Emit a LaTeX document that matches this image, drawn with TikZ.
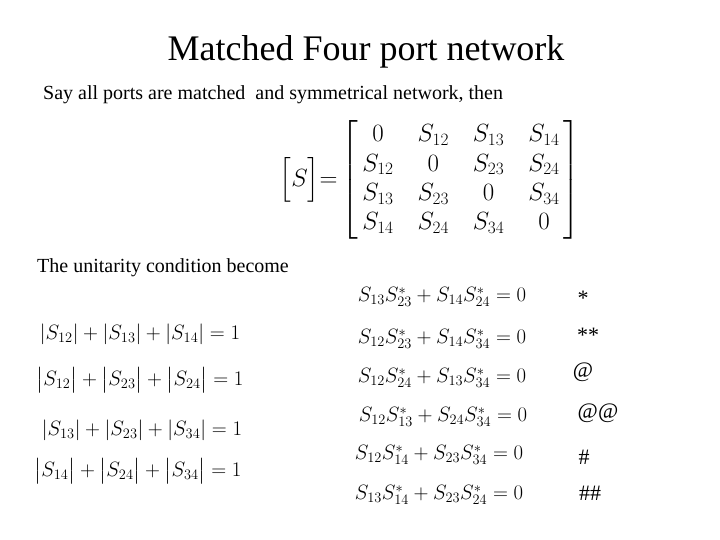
\documentclass[tikz,border=0pt]{standalone}
\usepackage{fontspec}
\usepackage{amsmath}
\setmainfont{Liberation Serif}
\begin{document}
\begin{tikzpicture}[x=1pt,y=-1pt,
  eq/.style={inner sep=0pt,font=\fontsize{20}{22}\selectfont},
  req/.style={inner sep=0pt,font=\fontsize{20.5}{22}\selectfont},
  sym/.style={inner sep=0pt,font=\fontsize{22}{24}\selectfont}]
\useasboundingbox (0,0) rectangle (720,540);
\node[inner sep=0pt,font=\fontsize{36}{40}\selectfont] (title) at (366,52) {Matched Four port network};
\node[inner sep=0pt,anchor=west,font=\fontsize{20}{22}\selectfont] (say) at (43,95) {Say all ports are matched\ \ and symmetrical network, then};
\node[inner sep=0pt,font=\fontsize{24}{28}\selectfont] (mat) at (430,180) {$\displaystyle\Big[S\Big]{=}\left[\renewcommand\arraystretch{1.05}\begin{array}{@{\,}c@{\quad}c@{\quad}c@{\quad}c@{\,}}
0 & S_{12} & S_{13} & S_{14}\\
S_{12} & 0 & S_{23} & S_{24}\\
S_{13} & S_{23} & 0 & S_{34}\\
S_{14} & S_{24} & S_{34} & 0
\end{array}\right]$};
\node[inner sep=0pt,anchor=west,font=\fontsize{20}{22}\selectfont] (uni) at (37,268) {The unitarity condition become};
\node[eq] (l1) at (140,334) {$|S_{12}|+|S_{13}|+|S_{14}|=1$};
\node[eq] (l2) at (140,380) {$\big|S_{12}\big|+\big|S_{23}\big|+\big|S_{24}\big|=1$};
\node[eq] (l3) at (142,430) {$|S_{13}|+|S_{23}|+|S_{34}|=1$};
\node[eq] (l4) at (138,471) {$\big|S_{14}\big|+\big|S_{24}\big|+\big|S_{34}\big|=1$};
\node[req] (r1) at (442,297) {$S_{13}S_{23}^{*}+S_{14}S_{24}^{*}=0$};
\node[req] (r2) at (442,339) {$S_{12}S_{23}^{*}+S_{14}S_{34}^{*}=0$};
\node[req] (r3) at (442,378) {$S_{12}S_{24}^{*}+S_{13}S_{34}^{*}=0$};
\node[req] (r4) at (443,417) {$S_{12}S_{13}^{*}+S_{24}S_{34}^{*}=0$};
\node[req] (r5) at (439,455) {$S_{12}S_{14}^{*}+S_{23}S_{34}^{*}=0$};
\node[req] (r6) at (439,495) {$S_{13}S_{14}^{*}+S_{23}S_{24}^{*}=0$};
\node[sym] (s1) at (583,298) {*};
\node[sym] (s2) at (588,335) {**};
\node[sym] (s3) at (583,372) {@};
\node[sym] (s4) at (598,413) {@@};
\node[sym] (s5) at (584,457) {\#};
\node[sym] (s6) at (590,493) {\#\#};
\end{tikzpicture}
\end{document}
